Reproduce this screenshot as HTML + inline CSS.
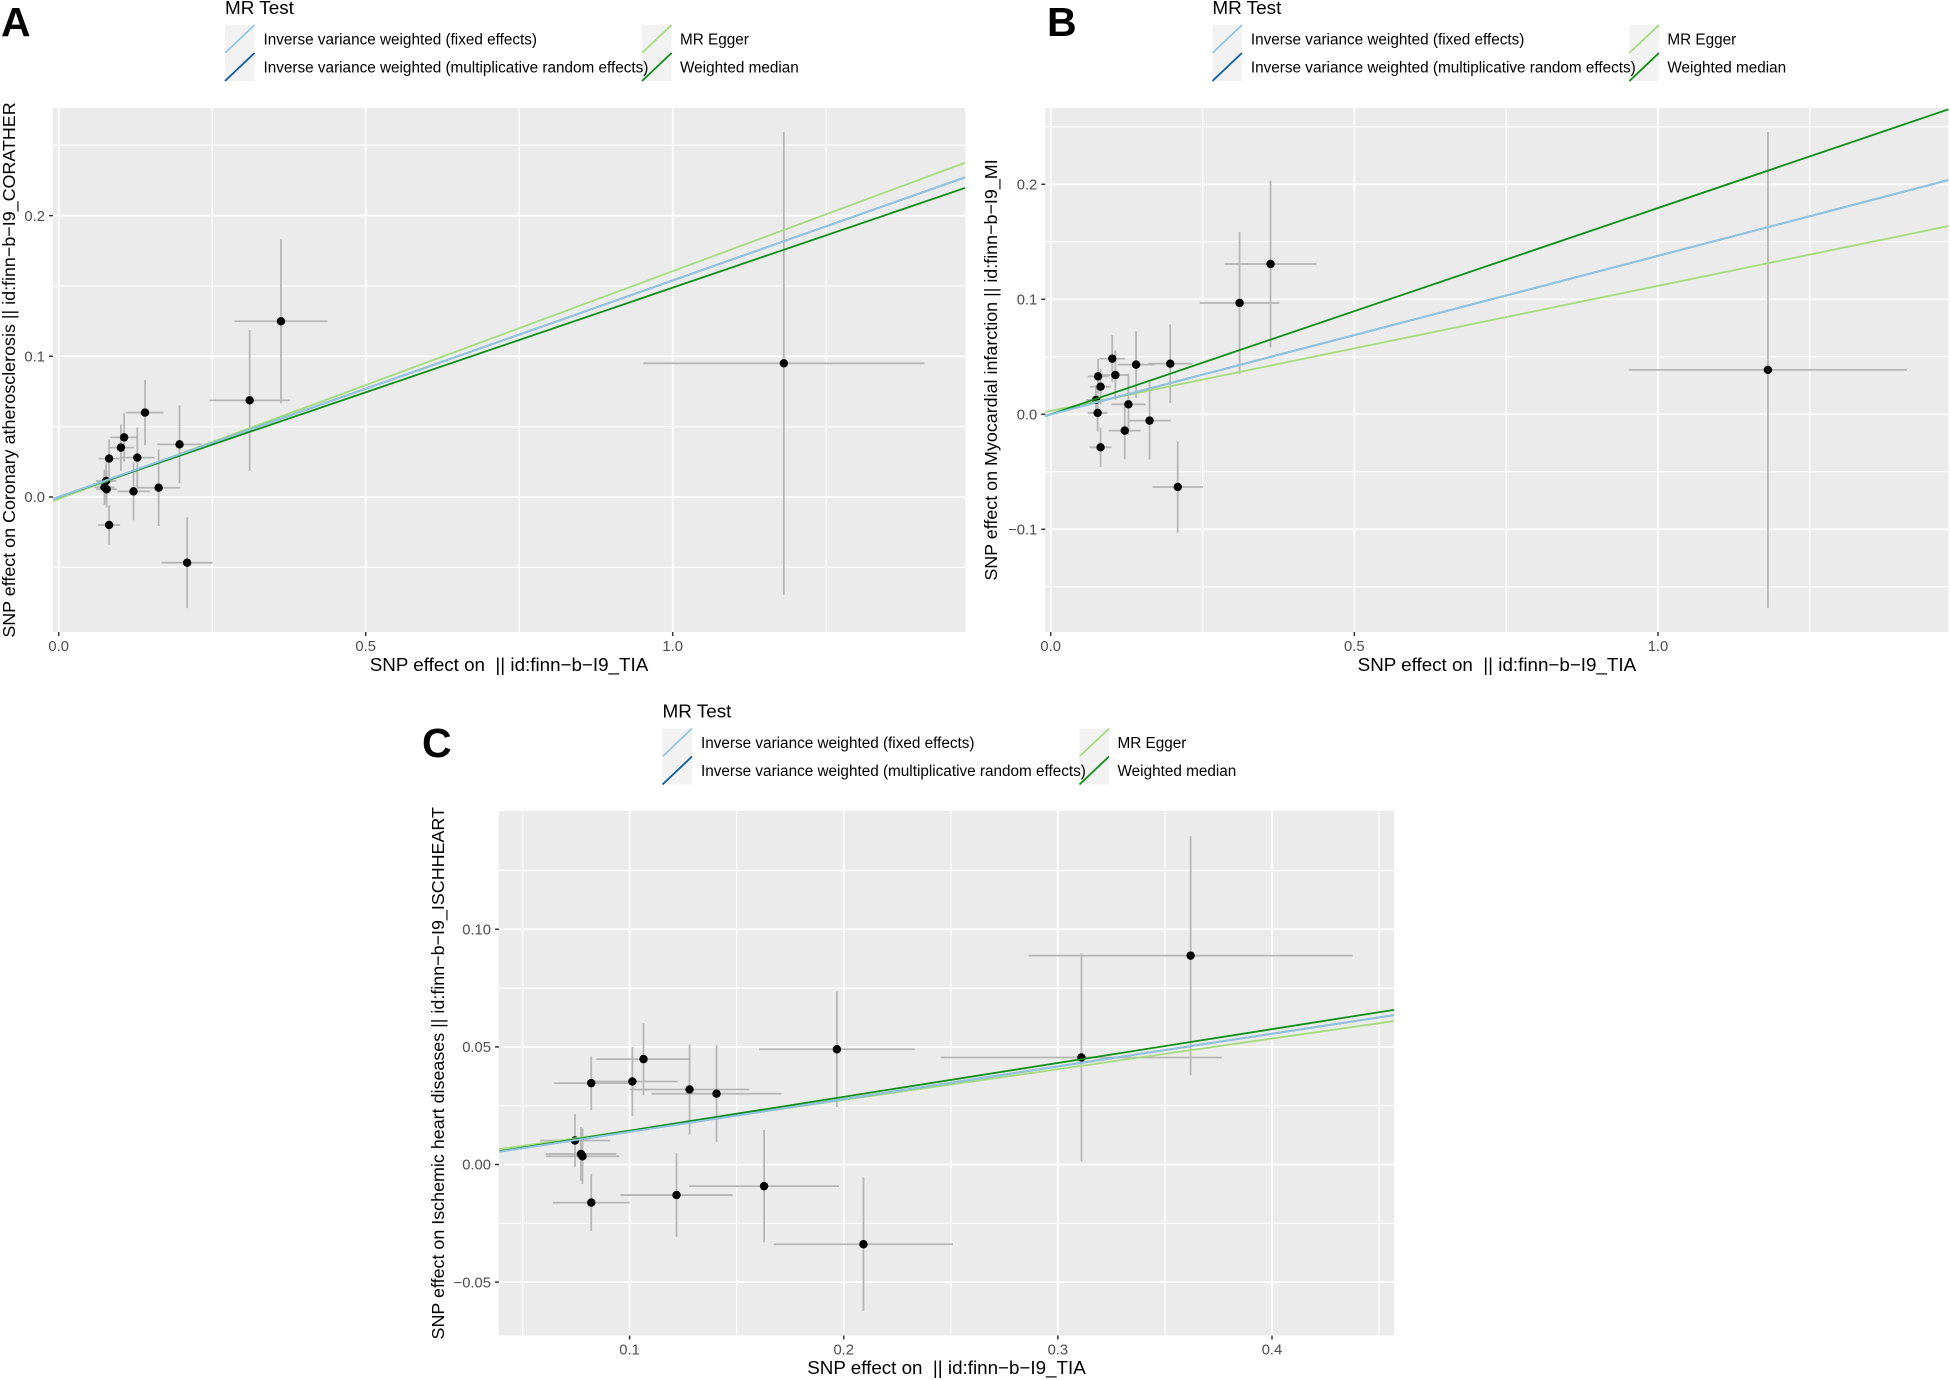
<!DOCTYPE html>
<html lang="en">
<head>
<meta charset="utf-8">
<title>MR scatter plots</title>
<style>
html,body{margin:0;padding:0;background:#fff;}
svg{display:block;font-family:"Liberation Sans",Arial,sans-serif;}
text{white-space:pre;}
</style>
</head>
<body>
<svg id="figure" xmlns="http://www.w3.org/2000/svg" width="1950" height="1380" viewBox="0 0 1950 1380"></svg>
<script>
// ---- Data: panel A ----
const aX = [0.0745,0.0773,0.078,0.0821,0.0821,0.1013,0.1065,0.1219,0.128,0.1406,0.1628,0.1968,0.2092,0.311,0.362,1.181];
const aXSe = [0.0164,0.0165,0.0171,0.018,0.0173,0.0212,0.022,0.0262,0.028,0.0303,0.035,0.0363,0.0418,0.0656,0.0757,0.229];
const aY = [0.0069,0.0114,0.0055,-0.0199,0.0273,0.0351,0.0424,0.004,0.028,0.06,0.0066,0.0374,-0.0467,0.0687,0.1249,0.095];
const aYSe = [0.0125,0.013,0.013,0.014,0.0135,0.0165,0.0172,0.0205,0.0215,0.0232,0.0272,0.0277,0.0323,0.05,0.0583,0.1645];
const aSlopes = [0.1619,0.1488,0.1539,0.1539];
const aIntercepts = [-0.0014,0,0,0];
const aXTicks = [0,0.5,1];
const aXTickLabels = ["0.0","0.5","1.0"];
const aXMinor = [0.25,0.75,1.25];
const aYTicks = [0,0.1,0.2];
const aYTickLabels = ["0.0","0.1","0.2"];
const aYMinor = [-0.05,0.05,0.15,0.25];

// ---- Data: panel B ----
const bX = [0.0745,0.0773,0.078,0.0821,0.0821,0.1013,0.1065,0.1219,0.128,0.1406,0.1628,0.1968,0.2092,0.311,0.362,1.181];
const bXSe = [0.0164,0.0165,0.0171,0.018,0.0173,0.0212,0.022,0.0262,0.028,0.0303,0.035,0.0363,0.0418,0.0656,0.0757,0.229];
const bY = [0.0125,0.0012,0.033,-0.0287,0.024,0.0484,0.0342,-0.0142,0.0087,0.0432,-0.0055,0.044,-0.0632,0.0968,0.1307,0.0386];
const bYSe = [0.013,0.0162,0.015,0.0171,0.0155,0.0203,0.0215,0.025,0.0267,0.029,0.0339,0.0342,0.0397,0.0617,0.0725,0.2069];
const bSlopes = [0.1087,0.1794,0.1378,0.1378];
const bIntercepts = [0.003,0,0,0];
const bXTicks = [0,0.5,1];
const bXTickLabels = ["0.0","0.5","1.0"];
const bXMinor = [0.25,0.75,1.25];
const bYTicks = [-0.1,0,0.1,0.2];
const bYTickLabels = ["\u22120.1","0.0","0.1","0.2"];
const bYMinor = [-0.15,-0.05,0.05,0.15,0.25];

// ---- Data: panel C ----
const cX = [0.0745,0.0773,0.078,0.0821,0.0821,0.1013,0.1065,0.1219,0.128,0.1406,0.1628,0.1968,0.2092,0.311,0.362];
const cXSe = [0.0164,0.0165,0.0171,0.018,0.0173,0.0212,0.022,0.0262,0.028,0.0303,0.035,0.0363,0.0418,0.0656,0.0757];
const cY = [0.0102,0.0045,0.0035,-0.0162,0.0346,0.0353,0.0448,-0.013,0.0319,0.0301,-0.0092,0.049,-0.0339,0.0455,0.0888];
const cYSe = [0.0112,0.0114,0.0118,0.0121,0.0114,0.0147,0.0153,0.0178,0.0192,0.0206,0.0239,0.0246,0.0284,0.0442,0.0508];
const cSlopes = [0.1304,0.1439,0.139,0.139];
const cIntercepts = [0.0014,0,0,0];
const cXTicks = [0.1,0.2,0.3,0.4];
const cXTickLabels = ["0.1","0.2","0.3","0.4"];
const cXMinor = [0.05,0.15,0.25,0.35,0.45];
const cYTicks = [-0.05,0,0.05,0.1];
const cYTickLabels = ["\u22120.05","0.00","0.05","0.10"];
const cYMinor = [-0.025,0.025,0.075,0.125];

// ---- Series order / labels ----
const methodNames = ["MR Egger","Weighted median","Inverse variance weighted (multiplicative random effects)","Inverse variance weighted (fixed effects)"];
const methodColors = ["#a4dc7c","#0b8f14","#0b5ca8","#92c5e3"];

const NS = "http://www.w3.org/2000/svg";
const root = document.getElementById("figure");

function mk(parent, tag, attrs, txt) {
  const el = document.createElementNS(NS, tag);
  for (const k in attrs) el.setAttribute(k, attrs[k]);
  if (txt !== undefined) el.textContent = txt;
  parent.appendChild(el);
  return el;
}

function linearScale(d0, r0, d1, r1) {
  const k = (r1 - r0) / (d1 - d0);
  const f = v => r0 + (v - d0) * k;
  f.invert = p => d0 + (p - r0) / k;
  return f;
}

function drawLegend(ox, oy) {
  const g = mk(root, "g", {});
  
  
  const title = mk(g, "text", {x: 225 + ox, y: 14 + oy, "font-size": 18.9, fill: "#000"}, "MR Test");
  
  
  const entries = [[3,225,25,263.5],[2,225,53,263.5],[0,642,25,680],[1,642,53,680]];
  entries.forEach(function (e) {
    const m = e[0], kx = e[1] + ox, ky = e[2] + oy;
    const key = mk(g, "rect", {x: kx, y: ky, width: 29.5, height: 28, fill: "#f2f2f2"});
    
    
    const ln = mk(g, "line", {x1: kx, y1: ky + 28, x2: kx + 29.5, y2: ky, stroke: methodColors[m], "stroke-width": 1.8});
    
    
  });
  entries.forEach(function (e) {
    const m = e[0], ky = e[2] + oy, tx = e[3] + ox;
    const lb = mk(g, "text", {x: tx, y: ky + 19.5, "font-size": 15.3, fill: "#000"}, methodNames[m]);
    
    
  });
}

function drawPanel(p, idx) {
  const sx = linearScale(p.xRef[0], p.xRef[1], p.xRef[2], p.xRef[3]);
  const sy = linearScale(p.yRef[0], p.yRef[1], p.yRef[2], p.yRef[3]);
  const g = mk(root, "g", {});
  
  

  const clipId = "clip-" + idx;
  const defs = mk(g, "defs", {});
  const cp = mk(defs, "clipPath", {id: clipId});
  mk(cp, "rect", {x: p.left, y: p.top, width: p.right - p.left, height: p.bottom - p.top});

  const bg = mk(g, "rect", {x: p.left, y: p.top, width: p.right - p.left, height: p.bottom - p.top, fill: "#ebebeb"});
  
  

  const grid = mk(g, "g", {"clip-path": "url(#" + clipId + ")"});
  
  
  p.xMinor.forEach(v => mk(grid, "line", {x1: sx(v), x2: sx(v), y1: p.top, y2: p.bottom, stroke: "#fff", "stroke-width": 1.2}));
  p.yMinor.forEach(v => mk(grid, "line", {x1: p.left, x2: p.right, y1: sy(v), y2: sy(v), stroke: "#fff", "stroke-width": 1.2}));
  p.xTicks.forEach(v => mk(grid, "line", {x1: sx(v), x2: sx(v), y1: p.top, y2: p.bottom, stroke: "#fff", "stroke-width": 1.7}));
  p.yTicks.forEach(v => mk(grid, "line", {x1: p.left, x2: p.right, y1: sy(v), y2: sy(v), stroke: "#fff", "stroke-width": 1.7}));

  const marks = mk(g, "g", {"clip-path": "url(#" + clipId + ")"});
  p.x.forEach(function (xv, i) {
    const yv = p.y[i];
    const eh = mk(marks, "line", {x1: sx(xv - p.xSe[i]), x2: sx(xv + p.xSe[i]), y1: sy(yv), y2: sy(yv), stroke: "#b6b6b6", "stroke-width": 1.8});
    
    
    const ev = mk(marks, "line", {x1: sx(xv), x2: sx(xv), y1: sy(yv - p.ySe[i]), y2: sy(yv + p.ySe[i]), stroke: "#b6b6b6", "stroke-width": 1.8});
    
    
  });
  p.x.forEach(function (xv, i) {
    const c = mk(marks, "circle", {cx: sx(xv), cy: sy(p.y[i]), r: 4.2, fill: "#000"});
    
    
  });
  const xa = sx.invert(p.left), xb = sx.invert(p.right);
  p.slopes.forEach(function (m, i) {
    const b = p.intercepts[i];
    const l = mk(marks, "line", {x1: p.left, x2: p.right, y1: sy(b + m * xa), y2: sy(b + m * xb), stroke: methodColors[i], "stroke-width": 1.8});
    
    
  });

  // axes
  p.xTicks.forEach(function (v, i) {
    const t = mk(g, "line", {x1: sx(v), x2: sx(v), y1: p.bottom, y2: p.bottom + 4, stroke: "#333", "stroke-width": 1.5});
    
    
    const lb = mk(g, "text", {x: sx(v), y: p.bottom + 19, "text-anchor": "middle", "font-size": 14.8, fill: "#4d4d4d"}, p.xTickLabels[i]);
    
    
  });
  p.yTicks.forEach(function (v, i) {
    const t = mk(g, "line", {x1: p.left - 4, x2: p.left, y1: sy(v), y2: sy(v), stroke: "#333", "stroke-width": 1.5});
    
    
    const lb = mk(g, "text", {x: p.left - 8, y: sy(v) + 5.2, "text-anchor": "end", "font-size": 14.8, fill: "#4d4d4d"}, p.yTickLabels[i]);
    
    
  });
  const xt = mk(g, "text", {x: (p.left + p.right) / 2, y: p.xTitleY, "text-anchor": "middle", "font-size": 18.8, fill: "#000"}, p.xTitle);
  
  
  const cy = (p.top + p.bottom) / 2;
  const yt = mk(g, "text", {x: p.yTitleX, y: cy, "text-anchor": "middle", "font-size": 17.9, fill: "#000", transform: "rotate(-90 " + p.yTitleX + " " + cy + ")"}, p.yTitle);
  
  

  const tag = mk(root, "text", {x: p.tagX, y: p.tagY, "font-size": 41, "font-weight": "bold", fill: "#000"}, p.tag);
  
  

  drawLegend(p.legendDx, p.legendDy);
}

const xTitleText = "SNP effect on  || id:finn\u2212b\u2212I9_TIA";
drawPanel({
  name: "panel-a", tag: "A", tagX: 1, tagY: 36, legendDx: 0, legendDy: 0,
  left: 53, right: 965, top: 108, bottom: 632,
  xRef: [0, 58.7, 1, 672.7], yRef: [0, 497, 0.1, 356.3],
  x: aX, xSe: aXSe, y: aY, ySe: aYSe, slopes: aSlopes, intercepts: aIntercepts,
  xTicks: aXTicks, xTickLabels: aXTickLabels, xMinor: aXMinor,
  yTicks: aYTicks, yTickLabels: aYTickLabels, yMinor: aYMinor,
  xTitle: xTitleText, xTitleY: 671, yTitleX: 15,
  yTitle: "SNP effect on Coronary atherosclerosis || id:finn\u2212b\u2212I9_CORATHER"
}, 0);
drawPanel({
  name: "panel-b", tag: "B", tagX: 1047, tagY: 36, legendDx: 987.4, legendDy: 0,
  left: 1045.3, right: 1948.5, top: 108, bottom: 632,
  xRef: [0, 1050.7, 1, 1658], yRef: [0, 414.3, 0.1, 299.3],
  x: bX, xSe: bXSe, y: bY, ySe: bYSe, slopes: bSlopes, intercepts: bIntercepts,
  xTicks: bXTicks, xTickLabels: bXTickLabels, xMinor: bXMinor,
  yTicks: bYTicks, yTickLabels: bYTickLabels, yMinor: bYMinor,
  xTitle: xTitleText, xTitleY: 671, yTitleX: 997,
  yTitle: "SNP effect on Myocardial infarction || id:finn\u2212b\u2212I9_MI"
}, 1);
drawPanel({
  name: "panel-c", tag: "C", tagX: 422, tagY: 757, legendDx: 437.5, legendDy: 703.5,
  left: 499, right: 1394, top: 811, bottom: 1335.5,
  xRef: [0.1, 629.6, 0.4, 1272], yRef: [0, 1164.5, 0.05, 1046.9],
  x: cX, xSe: cXSe, y: cY, ySe: cYSe, slopes: cSlopes, intercepts: cIntercepts,
  xTicks: cXTicks, xTickLabels: cXTickLabels, xMinor: cXMinor,
  yTicks: cYTicks, yTickLabels: cYTickLabels, yMinor: cYMinor,
  xTitle: xTitleText, xTitleY: 1374, yTitleX: 444,
  yTitle: "SNP effect on Ischemic heart diseases || id:finn\u2212b\u2212I9_ISCHHEART"
}, 2);
</script>
</body>
</html>
